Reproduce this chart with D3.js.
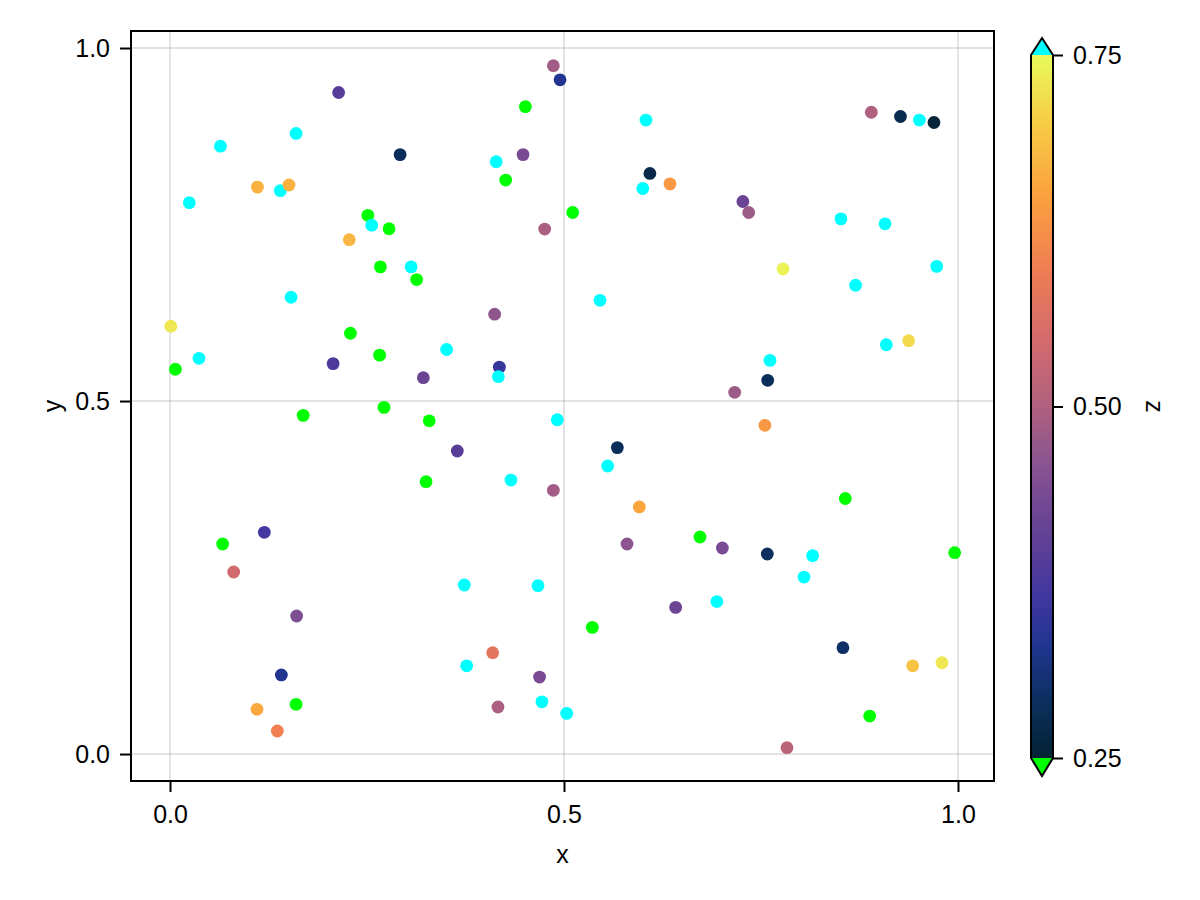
<!DOCTYPE html>
<html>
<head>
<meta charset="utf-8">
<script src="https://cdn.jsdelivr.net/npm/d3@7"></script>
<style>
  html, body { margin: 0; padding: 0; background: #fff; }
  svg { display: block; }
  text { font-family: "Liberation Sans", Arial, "DejaVu Sans", sans-serif; fill: #000; }
</style>
</head>
<body>
<svg id="chart" width="1200" height="900"></svg>
<script>
// ---- data ----
const xs = [0.4865,0.495,0.214,0.451,0.160,0.064,0.292,0.414,0.448,0.426,
  0.111,0.140,0.151,0.0245,0.511,0.251,0.256,0.278,0.2275,0.4755,
  0.267,0.306,0.313,0.1536,0.001,0.412,0.229,0.0368,0.0068,0.207,
  0.266,0.3215,0.351,0.418,0.4167,0.2716,0.604,0.890,0.927,0.951,
  0.9695,0.609,0.600,0.6345,0.727,0.7344,0.8515,0.9074,0.778,0.870,
  0.973,0.5457,0.909,0.9374,0.7614,0.7585,0.7166,0.169,0.329,0.4915,
  0.3646,0.3249,0.4327,0.4865,0.1197,0.0668,0.0808,0.3735,0.467,0.1607,
  0.4095,0.3765,0.469,0.1413,0.160,0.1104,0.1362,0.4162,0.472,0.5034,
  0.755,0.5677,0.5554,0.5956,0.857,0.580,0.6726,0.701,0.758,0.8155,
  0.8046,0.9958,0.6417,0.694,0.536,0.854,0.9425,0.9797,0.888,0.783];
const ys = [0.975,0.955,0.937,0.917,0.879,0.861,0.849,0.839,0.849,0.813,
  0.803,0.798,0.806,0.781,0.767,0.763,0.749,0.744,0.7285,0.7436,
  0.690,0.690,0.672,0.647,0.606,0.623,0.596,0.5605,0.545,0.553,
  0.565,0.533,0.573,0.548,0.5345,0.491,0.898,0.909,0.903,0.898,
  0.8945,0.8224,0.801,0.8076,0.7826,0.767,0.758,0.751,0.687,0.664,
  0.6907,0.6426,0.5797,0.5855,0.5576,0.5293,0.5123,0.4797,0.472,0.4735,
  0.4292,0.3857,0.388,0.3735,0.314,0.2975,0.2578,0.2394,0.2384,0.1955,
  0.1435,0.125,0.109,0.112,0.0704,0.0633,0.0326,0.0666,0.074,0.0576,
  0.4656,0.434,0.408,0.350,0.3619,0.2975,0.3074,0.2918,0.2833,0.281,
  0.2507,0.2852,0.2077,0.216,0.1794,0.1506,0.125,0.1293,0.0538,0.009];
const zs = [0.485,0.33,0.395,0.10,0.90,0.90,0.285,0.90,0.44,0.10,
  0.67,0.90,0.67,0.90,0.10,0.10,0.90,0.10,0.675,0.495,
  0.10,0.90,0.10,0.90,0.73,0.465,0.10,0.90,0.10,0.38,
  0.10,0.42,0.90,0.355,0.90,0.10,0.90,0.50,0.275,0.90,
  0.255,0.27,0.90,0.635,0.42,0.48,0.90,0.90,0.74,0.90,
  0.90,0.90,0.90,0.715,0.90,0.285,0.48,0.10,0.10,0.90,
  0.395,0.10,0.90,0.485,0.37,0.10,0.545,0.90,0.90,0.445,
  0.575,0.90,0.44,0.33,0.10,0.66,0.60,0.495,0.90,0.90,
  0.635,0.285,0.90,0.655,0.10,0.46,0.10,0.44,0.29,0.90,
  0.90,0.10,0.42,0.90,0.10,0.295,0.69,0.73,0.10,0.515];

const xTicks = [0.0, 0.5, 1.0];
const yTicks = [0.0, 0.5, 1.0];
const cTicks = [0.25, 0.50, 0.75];
const xLimits = [-0.0495, 1.0457];
const yLimits = [-0.0382, 1.0241];
const cLimits = [0.25, 0.75];

// thermal-like colormap stops
const thermalStops = ["#042333","#0c2f5e","#213591","#4537a0","#634294","#7a4b93","#8a5590",
  "#b0607f","#d56b6c","#f17f52","#fba13e","#f7cb45","#e8fa5b"];
const thermalPos = [0,0.08,0.16,0.24,0.32,0.38,0.42,0.5,0.6,0.7,0.8,0.9,1.0];
const lowClip = "#00ff00";
const highClip = "#00ffff";

// ---- layout ----
const svg = d3.select("#chart");
const L = 131, R = 994, T = 31, B = 781;
const fs = 25;

const x = d3.scaleLinear().domain(xLimits).range([L, R]);
const y = d3.scaleLinear().domain(yLimits).range([B, T]);

const tScale = d3.scaleLinear().domain(thermalPos).range(thermalStops).interpolate(d3.interpolateRgb);
const cNorm = d3.scaleLinear().domain(cLimits).range([0, 1]);
function colorOf(z) {
  if (z < cLimits[0]) return lowClip;
  if (z > cLimits[1]) return highClip;
  return tScale(cNorm(z));
}

// grid
const g = svg.append("g");
g.selectAll("line.gx").data(xTicks).enter().append("line")
  .attr("x1", d => x(d)).attr("x2", d => x(d)).attr("y1", T).attr("y2", B)
  .attr("stroke", "rgba(0,0,0,0.11)").attr("stroke-width", 2);
g.selectAll("line.gy").data(yTicks).enter().append("line")
  .attr("y1", d => y(d)).attr("y2", d => y(d)).attr("x1", L).attr("x2", R)
  .attr("stroke", "rgba(0,0,0,0.11)").attr("stroke-width", 2);

// points
const pts = d3.range(xs.length).map(i => ({x: xs[i], y: ys[i], z: zs[i]}));
svg.append("g").selectAll("circle").data(pts).enter().append("circle")
  .attr("cx", d => x(d.x)).attr("cy", d => y(d.y)).attr("r", 6.4)
  .attr("fill", d => colorOf(d.z));

// frame
svg.append("rect").attr("x", L).attr("y", T).attr("width", R - L).attr("height", B - T)
  .attr("fill", "none").attr("stroke", "#000").attr("stroke-width", 2);

// axes
const xAxis = d3.axisBottom(x).tickValues(xTicks).tickFormat(d3.format(".1f")).tickSize(10).tickPadding(13);
const yAxis = d3.axisLeft(y).tickValues(yTicks).tickFormat(d3.format(".1f")).tickSize(10).tickPadding(10);
const gx = svg.append("g").attr("transform", `translate(0,${B + 1})`).call(xAxis);
const gy = svg.append("g").attr("transform", `translate(${L - 1},0)`).call(yAxis);
[gx, gy].forEach(a => {
  a.select(".domain").remove();
  a.selectAll(".tick line").attr("stroke", "#000").attr("stroke-width", 2);
  a.selectAll(".tick text").style("font-size", fs + "px").attr("fill", "#000")
    .style("font-family", '"Liberation Sans", Arial, sans-serif');
});

svg.append("text").attr("x", (L + R) / 2).attr("y", 863).attr("text-anchor", "middle")
  .style("font-size", fs + "px").text("x");
svg.append("text").attr("transform", `translate(52,${(T + B) / 2}) rotate(-90)`)
  .attr("text-anchor", "middle").attr("dominant-baseline", "central")
  .style("font-size", fs + "px").text("y");

// colorbar
const cbL = 1031, cbR = 1053, cbT = 55, cbB = 758;
const cy = d3.scaleLinear().domain(cLimits).range([cbB, cbT]);
const defs = svg.append("defs");
const grad = defs.append("linearGradient").attr("id", "cgrad")
  .attr("x1", 0).attr("y1", 1).attr("x2", 0).attr("y2", 0);
d3.range(0, 1.0001, 0.02).forEach(t => {
  grad.append("stop").attr("offset", t).attr("stop-color", tScale(t));
});
svg.append("rect").attr("x", cbL).attr("y", cbT).attr("width", cbR - cbL).attr("height", cbB - cbT)
  .attr("fill", "url(#cgrad)");
const cmid = (cbL + cbR) / 2;
svg.append("path").attr("d", `M${cbL},${cbT} L${cmid},${cbT - 17} L${cbR},${cbT} Z`)
  .attr("fill", highClip);
svg.append("path").attr("d", `M${cbL},${cbB} L${cmid},${cbB + 18} L${cbR},${cbB} Z`)
  .attr("fill", lowClip);
svg.append("path")
  .attr("d", `M${cbL},${cbT} L${cmid},${cbT - 17} L${cbR},${cbT} L${cbR},${cbB} L${cmid},${cbB + 18} L${cbL},${cbB} Z`)
  .attr("fill", "none").attr("stroke", "#000").attr("stroke-width", 2).attr("stroke-linejoin", "miter");

const cAxis = d3.axisRight(cy).tickValues(cTicks).tickFormat(d3.format(".2f")).tickSize(10).tickPadding(10);
const gc = svg.append("g").attr("transform", `translate(${cbR},0)`).call(cAxis);
gc.select(".domain").remove();
gc.selectAll(".tick line").attr("stroke", "#000").attr("stroke-width", 2);
gc.selectAll(".tick text").style("font-size", fs + "px").attr("fill", "#000")
  .style("font-family", '"Liberation Sans", Arial, sans-serif');

svg.append("text").attr("transform", `translate(1155,${(cbT + cbB) / 2}) rotate(90)`)
  .attr("text-anchor", "middle").attr("dominant-baseline", "central")
  .style("font-size", fs + "px").text("z");
</script>
</body>
</html>
